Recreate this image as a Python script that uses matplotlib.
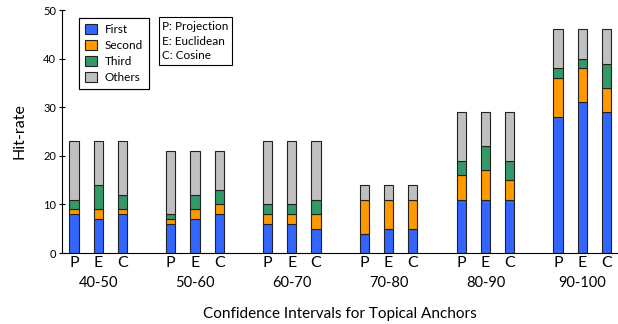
import numpy as np
import matplotlib.pyplot as plt

plt.rcParams["font.family"] = ["Lato", "DejaVu Sans"]

groups = ["40-50", "50-60", "60-70", "70-80", "80-90", "90-100"]
methods = ["P", "E", "C"]

# hits per rank, one row per confidence interval, columns P/E/C
first = [[8, 7, 8], [6, 7, 8], [6, 6, 5], [4, 5, 5], [11, 11, 11], [28, 31, 29]]
second = [[1, 2, 1], [1, 2, 2], [2, 2, 3], [7, 6, 6], [5, 6, 4], [8, 7, 5]]
third = [[2, 5, 3], [1, 3, 3], [2, 2, 3], [0, 0, 0], [3, 5, 4], [2, 2, 5]]
others = [[12, 9, 11], [13, 9, 8], [13, 13, 12], [3, 3, 3], [10, 7, 10], [8, 6, 7]]

series = [("First", first, "#3366ff"),
          ("Second", second, "#ff9900"),
          ("Third", third, "#339966"),
          ("Others", others, "#c0c0c0")]

x = np.array([4 * g + i for g in range(len(groups)) for i in range(len(methods))])

fig = plt.figure(figsize=(6.18, 3.24), dpi=100)
ax = fig.add_axes([0.1, 0.219, 0.899, 0.75])

bottom = np.zeros(len(x))
handles = []
for name, vals, col in series:
    v = np.array(vals).ravel()
    b = ax.bar(x, v, width=0.38, bottom=bottom, color=col,
               edgecolor="#222222", linewidth=0.8, label=name)
    handles.append(b)
    bottom += v

ax.set_xlim(-0.5, 22.45)
ax.set_ylim(0, 50)
ax.set_yticks(range(0, 51, 10))
ax.tick_params(axis="y", direction="inout", length=4, labelsize=8, pad=2)
ax.set_xticks(x)
ax.set_xticklabels(methods * len(groups), fontsize=11.5)
ax.tick_params(axis="x", length=0, pad=2)
for s in ["top", "right"]:
    ax.spines[s].set_visible(False)

for g, lab in enumerate(groups):
    ax.text(4 * g + 1, -0.125, lab, transform=ax.get_xaxis_transform(),
            ha="center", va="center", fontsize=10.5)

ax.set_ylabel("Hit-rate", fontsize=11.5, labelpad=12)
ax.set_xlabel("Confidence Intervals for Topical Anchors", fontsize=11, labelpad=27)

leg = ax.legend(handles=handles, loc="upper left", bbox_to_anchor=(0.031, 0.968),
                borderaxespad=0, fontsize=8.5, fancybox=False, edgecolor="black",
                framealpha=1, handlelength=1.0, handleheight=1.0,
                labelspacing=0.4, borderpad=0.5, handletextpad=0.7)
leg.get_frame().set_linewidth(0.8)
ax.add_artist(leg)

ax.text(0.181, 0.955, "P: Projection\nE: Euclidean\nC: Cosine",
        transform=ax.transAxes, ha="left", va="top", fontsize=8.5,
        linespacing=1.4,
        bbox=dict(boxstyle="square,pad=0.3", fc="white", ec="black", lw=0.8))

fig.savefig("out.png", dpi=100)
